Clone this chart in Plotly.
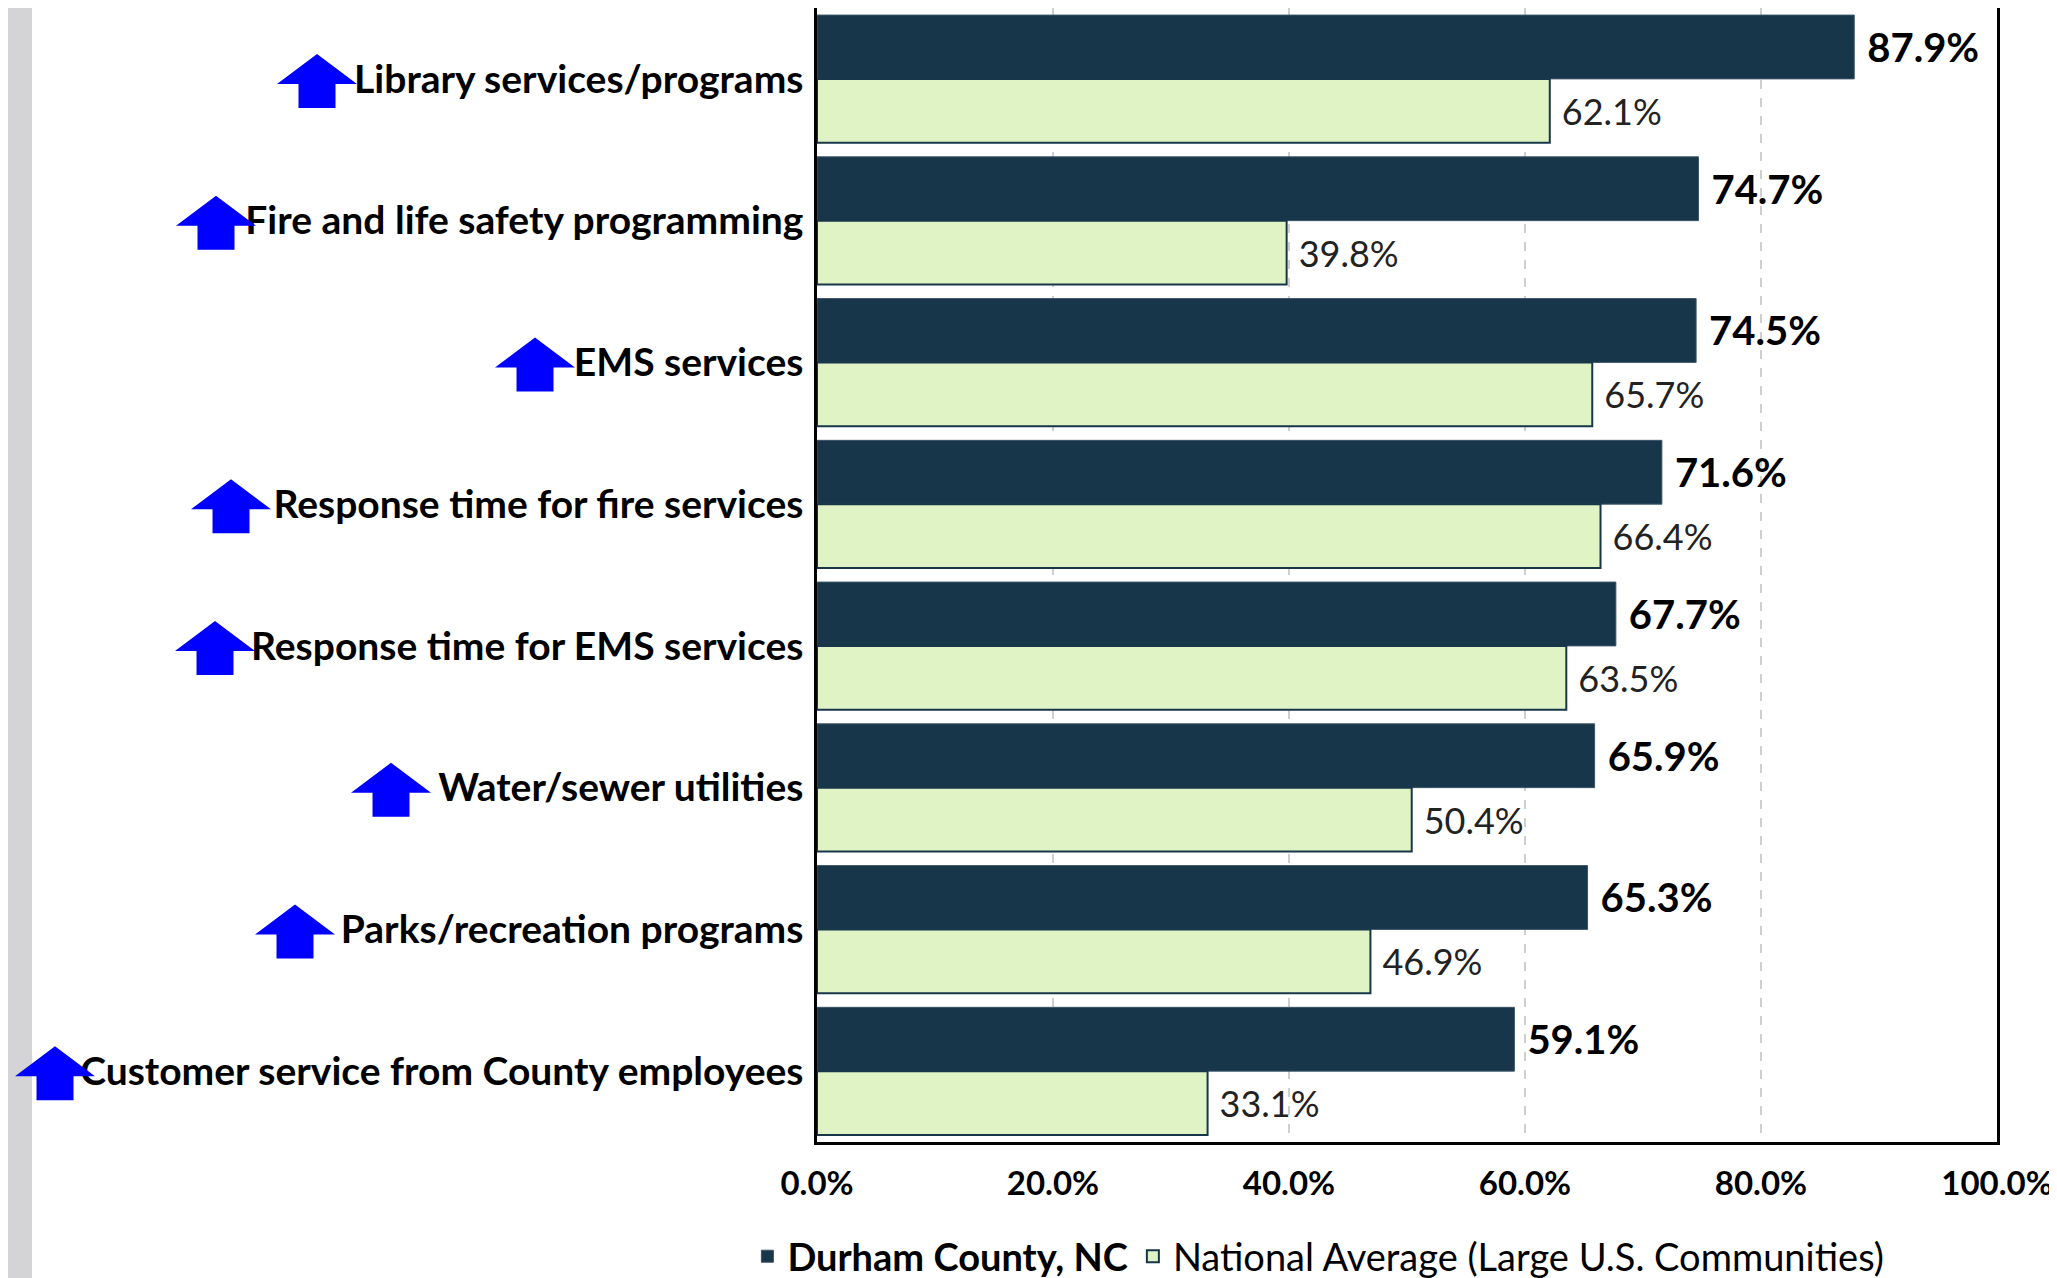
import plotly.graph_objects as go

# Kategorier uppifrån och ned
kategorier = [
    "Library services/programs",
    "Fire and life safety programming",
    "EMS services",
    "Response time for fire services",
    "Response time for EMS services",
    "Water/sewer utilities",
    "Parks/recreation programs",
    "Customer service from County employees",
]
durham = [87.9, 74.7, 74.5, 71.6, 67.7, 65.9, 65.3, 59.1]
nationellt = [62.1, 39.8, 65.7, 66.4, 63.5, 50.4, 46.9, 33.1]
x_ticks = [0, 20, 40, 60, 80, 100]
x_ticktext = ["0.0%", "20.0%", "40.0%", "60.0%", "80.0%", "100.0%"]

# pilarnas mittpunkt i pixlar relativt diagrammets vänsterkant (en per rad)
pil_x = [-500, -601, -282, -586, -602, -426, -522, -762]

MORK = "#17364A"
LJUS = "#E0F3C4"
FONT = "Lato"

fig = go.Figure()
fig.add_trace(go.Bar(
    y=kategorier, x=durham, orientation="h",
    name="<b>Durham County, NC</b>",
    marker=dict(color=MORK, line=dict(color="#3c5566", width=1)),
    texttemplate="\u2005%{x:.1f}%", textposition="outside",
    textfont=dict(family=FONT, size=40, color="black", weight="bold"),
    cliponaxis=False,
))
fig.add_trace(go.Bar(
    y=kategorier, x=nationellt, orientation="h",
    name="National Average (Large U.S. Communities)",
    marker=dict(color=LJUS, line=dict(color=MORK, width=2)),
    texttemplate="\u2005%{x:.1f}%", textposition="outside",
    textfont=dict(family=FONT, size=36, color="#222222"),
    cliponaxis=False,
))

# blå uppåtpilar vid etiketterna
n = len(kategorier)
for i, dx in enumerate(pil_x):
    path = (f"M {dx-18.5},-29 L {dx+18.5},-29 L {dx+18.5},-5 L {dx+40},-5 "
            f"L {dx},25 L {dx-40},-5 L {dx-18.5},-5 Z")
    fig.add_shape(type="path", path=path, xref="paper", yref="paper",
                  xsizemode="pixel", ysizemode="pixel",
                  xanchor=0, yanchor=1 - (i + 0.5) / n,
                  fillcolor="#0000FF", line=dict(width=0), layer="above")

# grå list till vänster
fig.add_shape(type="rect", xref="paper", yref="paper",
              x0=-809 / 1180, x1=-785 / 1180, y0=-0.3, y1=1.1,
              fillcolor="#D4D4D6", line=dict(width=0), layer="below")

fig.update_layout(
    width=2049, height=1270,
    margin=dict(l=809, r=60, t=0, b=136, autoexpand=False),
    paper_bgcolor="white", plot_bgcolor="white",
    barmode="group", bargap=0.1, bargroupgap=0,
    font=dict(family=FONT, color="black"),
    showlegend=True,
    legend=dict(orientation="h", x=-0.059, xanchor="left", y=-0.101, yanchor="middle",
                font=dict(family=FONT, size=38, color="black"),
                traceorder="normal", itemwidth=30),
    xaxis=dict(range=[0, 100], tickvals=x_ticks, ticktext=x_ticktext,
               tickfont=dict(family=FONT, size=33, weight="bold"),
               showgrid=True, gridcolor="#CFCFCF", griddash="dash", gridwidth=1.5,
               showline=True, linecolor="black", linewidth=2.5, mirror=True,
               ticks="", ticklabelstandoff=11, zeroline=False),
    yaxis=dict(autorange="reversed", tickfont=dict(family=FONT, size=39, weight="bold"),
               showline=True, linecolor="black", linewidth=2.5, mirror=True,
               ticks="", ticklabelstandoff=3),
)

fig.write_html("out.html")
